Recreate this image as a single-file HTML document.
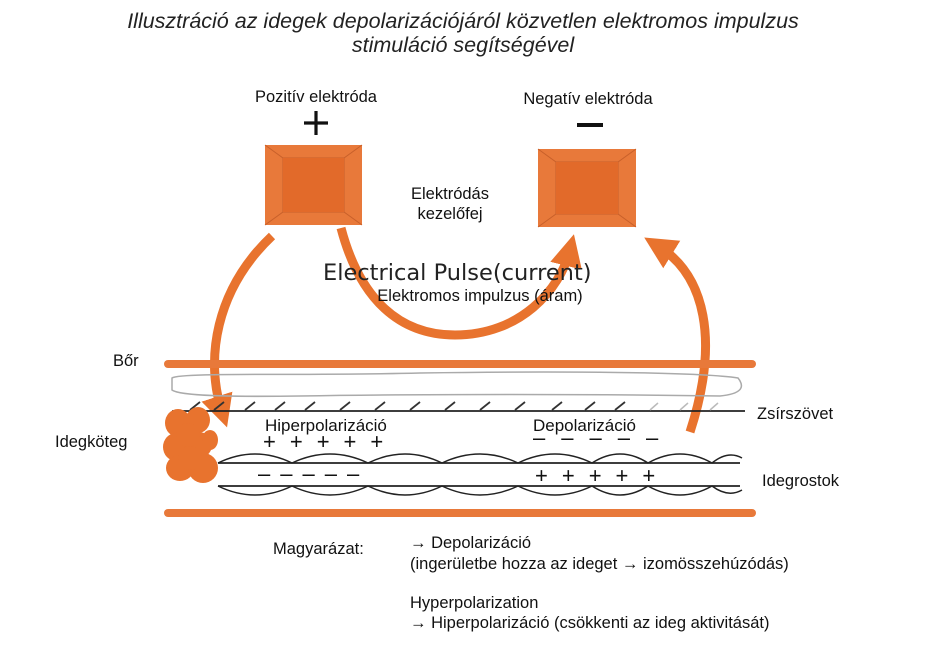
<!DOCTYPE html>
<html><head><meta charset="utf-8"><style>
html,body{margin:0;padding:0;background:#fff;}
svg{display:block;font-family:"Liberation Sans",Arial,sans-serif;}
</style></head><body>
<svg width="929" height="647" viewBox="0 0 929 647">
<defs>
<marker id="ah" viewBox="0 0 10 10" refX="5" refY="5" markerWidth="3.6" markerHeight="3.6" orient="auto">
<path d="M0,0 L10,5 L0,10 Z" fill="#E8732E"/></marker>
</defs>
<text x="463" y="28" font-size="21.5" font-style="italic" text-anchor="middle" fill="#222">Illusztráció az idegek depolarizációjáról közvetlen elektromos impulzus</text>
<text x="463" y="52" font-size="21.5" font-style="italic" text-anchor="middle" fill="#222">stimuláció segítségével</text>

<text x="316" y="102" font-size="16.5" text-anchor="middle" fill="#111">Pozitív elektróda</text>
<text x="588" y="104" font-size="16.5" text-anchor="middle" fill="#111">Negatív elektróda</text>
<path d="M316,111 V135 M304,123 H328" stroke="#111" stroke-width="3.2"/>
<path d="M577,125 H603" stroke="#111" stroke-width="4"/>

<g>
<rect x="265" y="145" width="97" height="80" fill="#E8793A"/>
<path d="M265,145 L283,158 L344,158 L362,145 M265,225 L283,212 L344,212 L362,225 M283,158 V212 M344,158 V212" stroke="#C8602A" stroke-width="1" fill="none"/>
<rect x="283" y="158" width="61" height="54" fill="#E26A2A"/>
<rect x="538" y="149" width="98" height="78" fill="#E8793A"/>
<path d="M538,149 L556,162 L618,162 L636,149 M538,227 L556,214 L618,214 L636,227 M556,162 V214 M618,162 V214" stroke="#C8602A" stroke-width="1" fill="none"/>
<rect x="556" y="162" width="62" height="52" fill="#E26A2A"/>
</g>

<text x="450" y="199" font-size="16.5" text-anchor="middle" fill="#111">Elektródás</text>
<text x="450" y="219" font-size="16.5" text-anchor="middle" fill="#111">kezelőfej</text>

<g fill="none" stroke="#E8732E" stroke-width="9">
<path d="M272,236 C215,290 205,360 222,412" marker-end="url(#ah)"/>
<path d="M341,228 C360,300 400,335 455,335 C520,335 560,290 570,250" marker-end="url(#ah)"/>
<path d="M690,432 C720,340 705,275 658,246" marker-end="url(#ah)"/>
</g>

<text x="323" y="280" font-size="22.5" fill="#222" font-family="DejaVu Sans, sans-serif">Electrical Pulse(current)</text>
<text x="480" y="301" font-size="16.5" text-anchor="middle" fill="#111">Elektromos impulzus (áram)</text>

<line x1="168" y1="364" x2="752" y2="364" stroke="#E8793A" stroke-width="8" stroke-linecap="round"/>
<path d="M172,378 C180,372 300,376 420,373 C560,371 700,372 738,378 C746,388 740,394 720,396 C600,394 420,394 300,396 C230,397 180,396 172,390 Z" fill="none" stroke="#aaa" stroke-width="1.5"/>
<line x1="172" y1="411" x2="745" y2="411" stroke="#222" stroke-width="1.8"/>
<g stroke="#333" stroke-width="1.8">
<path d="M190,410 l10,-8 M214,410 l10,-8 M245,410 l10,-8 M275,410 l10,-8 M305,410 l10,-8 M340,410 l10,-8 M375,410 l10,-8 M410,410 l10,-8 M445,410 l10,-8 M480,410 l10,-8 M515,410 l10,-8 M552,410 l10,-8 M585,410 l10,-8 M615,410 l10,-8"/>
</g>
<g stroke="#bbb" stroke-width="1.5"><path d="M650,410 l8,-7 M680,410 l8,-7 M710,410 l8,-7"/></g>
<text x="265" y="431" font-size="17" fill="#111">Hiperpolarizáció</text>
<text x="533" y="431" font-size="17" fill="#111">Depolarizáció</text>
<text x="263" y="449" font-size="22" fill="#111" letter-spacing="14">+++++</text>
<text x="533" y="445" font-size="22" fill="#111" letter-spacing="16">–––––</text>
<line x1="218" y1="463" x2="740" y2="463" stroke="#222" stroke-width="1.8"/>
<line x1="218" y1="486" x2="740" y2="486" stroke="#222" stroke-width="1.8"/>
<g fill="none" stroke="#222" stroke-width="1.5">
<path d="M218,463 Q255,445 292,463 Q330,445 368,463 Q405,445 442,463 Q480,445 518,463 Q555,445 592,463 Q620,445 648,463 Q680,445 712,463 Q728,450 742,458"/>
<path d="M218,486 Q255,504 292,486 Q330,504 368,486 Q405,504 442,486 Q480,504 518,486 Q555,504 592,486 Q620,504 648,486 Q680,504 712,486 Q728,498 742,490"/>
</g>
<text x="258" y="481" font-size="22" fill="#111" letter-spacing="10">–––––</text>
<text x="535" y="483" font-size="22" fill="#111" letter-spacing="14">+++++</text>
<line x1="168" y1="513" x2="752" y2="513" stroke="#E8793A" stroke-width="8" stroke-linecap="round"/>

<g fill="#E8732E">
<ellipse cx="178" cy="423" rx="13" ry="14"/><ellipse cx="198" cy="420" rx="12" ry="13"/>
<ellipse cx="176" cy="447" rx="13" ry="14"/><ellipse cx="199" cy="445" rx="13" ry="13"/>
<ellipse cx="180" cy="468" rx="14" ry="13"/><ellipse cx="203" cy="468" rx="15" ry="15"/>
<ellipse cx="210" cy="440" rx="8" ry="10"/><ellipse cx="188" cy="435" rx="12" ry="12"/>
<ellipse cx="190" cy="458" rx="12" ry="12"/>
</g>

<text x="113" y="366" font-size="16.5" fill="#111">Bőr</text>
<text x="55" y="447" font-size="16.5" fill="#111">Idegköteg</text>
<text x="757" y="419" font-size="16.5" fill="#111">Zsírszövet</text>
<text x="762" y="486" font-size="16.5" fill="#111">Idegrostok</text>

<text x="273" y="554" font-size="16.5" fill="#111">Magyarázat:</text>
<text x="410" y="548" font-size="16.5" fill="#111">→ Depolarizáció</text>
<text x="410" y="569" font-size="16.5" fill="#111">(ingerületbe hozza az ideget → izomösszehúzódás)</text>
<text x="410" y="608" font-size="16.5" fill="#111">Hyperpolarization</text>
<text x="410" y="628" font-size="16.5" fill="#111">→ Hiperpolarizáció (csökkenti az ideg aktivitását)</text>
</svg>
</body></html>
